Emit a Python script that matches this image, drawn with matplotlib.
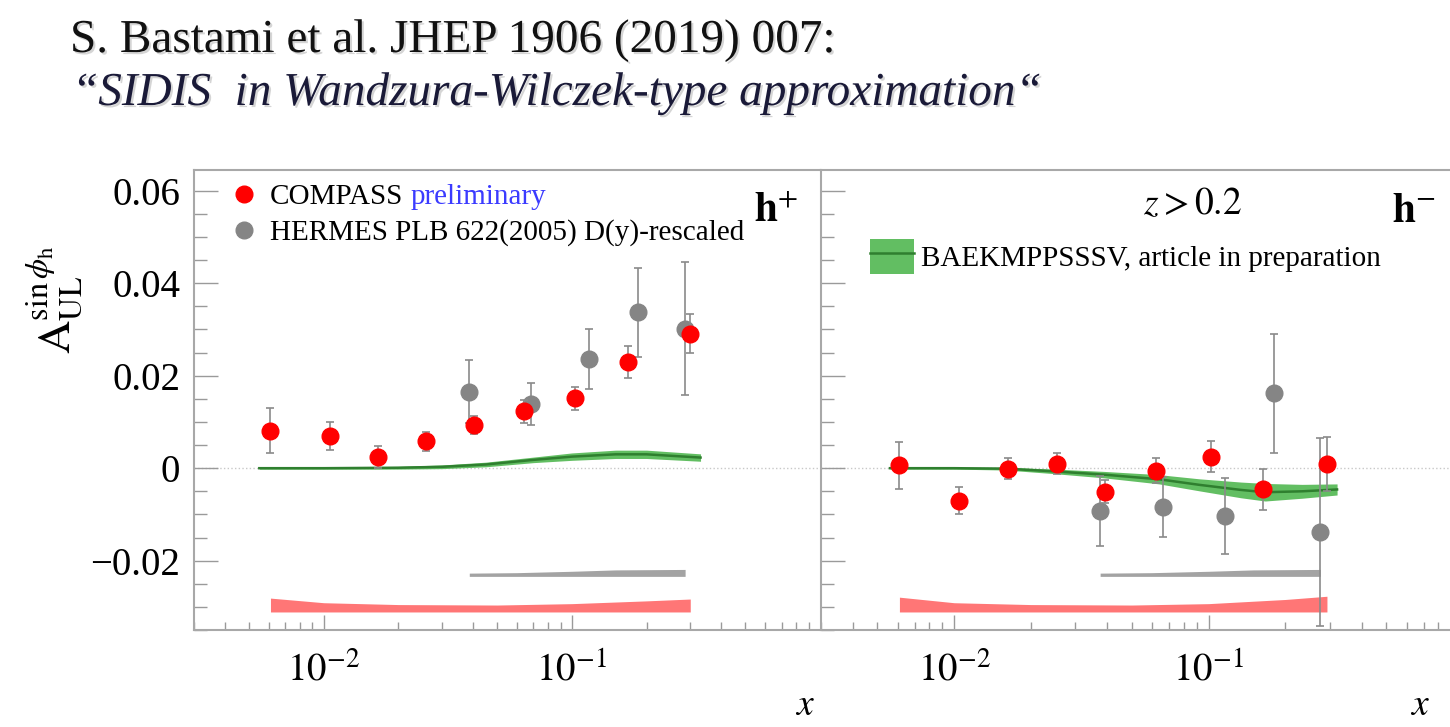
import numpy as np
import matplotlib
matplotlib.use("Agg")
import matplotlib.pyplot as plt
import matplotlib.patheffects as pe
from matplotlib.ticker import MultipleLocator, LogLocator, NullFormatter
from matplotlib.lines import Line2D
from matplotlib.patches import Patch

plt.rcParams['font.family'] = ['Liberation Serif', 'DejaVu Serif']
plt.rcParams['mathtext.fontset'] = 'stix'

# COMPASS points (red), h+ and h-
cmp_x_pos = [0.0061, 0.0106, 0.0166, 0.0258, 0.0404, 0.0644, 0.103, 0.168, 0.30]
cmp_y_pos = [0.0081, 0.0069, 0.0025, 0.0058, 0.0093, 0.0123, 0.0151, 0.0230, 0.0291]
cmp_e_pos = [0.0049, 0.0030, 0.0024, 0.0020, 0.0020, 0.0025, 0.0025, 0.0035, 0.0042]
cmp_x_neg = [0.0061, 0.0105, 0.0163, 0.0253, 0.0393, 0.0620, 0.102, 0.164, 0.292]
cmp_y_neg = [0.0006, -0.0070, -0.0001, 0.0010, -0.0051, -0.0006, 0.0025, -0.0046, 0.0009]
cmp_e_neg = [0.0050, 0.0030, 0.0022, 0.0022, 0.0025, 0.0027, 0.0033, 0.0045, 0.0058]

# HERMES points (gray)
her_x_pos = [0.0386, 0.0687, 0.1175, 0.184, 0.286]
her_y_pos = [0.0165, 0.0139, 0.0236, 0.0337, 0.0302]
her_e_pos = [0.0068, 0.0045, 0.0065, 0.0096, 0.0144]
her_x_neg = [0.0375, 0.0665, 0.116, 0.181, 0.275]
her_y_neg = [-0.0093, -0.0083, -0.0104, 0.0162, -0.0138]
her_e_neg = [0.0076, 0.0065, 0.0082, 0.0129, 0.0204]

# theory band (green): centre and half width
th_x_pos = [0.0055, 0.01, 0.02, 0.03, 0.045, 0.07, 0.1, 0.15, 0.2, 0.33]
th_c_pos = [0.0, 0.0, 0.0001, 0.0003, 0.0008, 0.0018, 0.0025, 0.0030, 0.0030, 0.0023]
th_w_pos = [0.0002, 0.0002, 0.0003, 0.0004, 0.0005, 0.0006, 0.0008, 0.0009, 0.0009, 0.0008]
th_x_neg = [0.0056, 0.01, 0.016, 0.025, 0.039, 0.064, 0.092, 0.134, 0.167, 0.233, 0.32]
th_c_neg = [0.0, 0.0, -0.0001, -0.0007, -0.0014, -0.0024, -0.0036, -0.0047, -0.0052, -0.0050, -0.0046]
th_w_neg = [0.0002, 0.0002, 0.0003, 0.0005, 0.0007, 0.0010, 0.0013, 0.0017, 0.0019, 0.0015, 0.0012]

# systematic bands: COMPASS (red) and HERMES (gray)
sys_c_x_pos = [0.0061, 0.01, 0.02, 0.05, 0.1, 0.2, 0.30]
sys_c_top_pos = [-0.0281, -0.0291, -0.0295, -0.0296, -0.0293, -0.0287, -0.0283]
sys_c_x_neg = [0.0061, 0.01, 0.02, 0.05, 0.1, 0.2, 0.292]
sys_c_top_neg = [-0.0279, -0.0291, -0.0295, -0.0296, -0.0293, -0.0284, -0.0277]
sys_c_bot = -0.0311
sys_h_x_pos = [0.0386, 0.06, 0.1, 0.15, 0.286]
sys_h_top_pos = [-0.0227, -0.0226, -0.0223, -0.0220, -0.0219]
sys_h_x_neg = [0.0375, 0.06, 0.1, 0.15, 0.275]
sys_h_top_neg = [-0.0227, -0.0226, -0.0223, -0.0220, -0.0219]
sys_h_bot = -0.0234

ytick_vals = [-0.02, 0, 0.02, 0.04, 0.06]
ytick_labels = ['\u22120.02', '0', '0.02', '0.04', '0.06']

RED = '#ff0000'
GRAY = '#858585'
GREEN = '#62be62'
DKGREEN = '#2f7f2f'
SPINE = '#a8a8a8'

W, H = 1450, 727
fig = plt.figure(figsize=(W / 100, H / 100), dpi=100)
ax1 = fig.add_axes([194 / W, 1 - 630 / H, 626 / W, 460 / H])
ax2 = fig.add_axes([821 / W, 1 - 630 / H, 642 / W, 460 / H])

panels = [
    (ax1, cmp_x_pos, cmp_y_pos, cmp_e_pos, her_x_pos, her_y_pos, her_e_pos,
     th_x_pos, th_c_pos, th_w_pos, sys_c_x_pos, sys_c_top_pos, sys_h_x_pos, sys_h_top_pos),
    (ax2, cmp_x_neg, cmp_y_neg, cmp_e_neg, her_x_neg, her_y_neg, her_e_neg,
     th_x_neg, th_c_neg, th_w_neg, sys_c_x_neg, sys_c_top_neg, sys_h_x_neg, sys_h_top_neg),
]

for (ax, cx, cy, ce, hx, hy, he, tx, tc, tw, scx, sct, shx, sht) in panels:
    ax.set_xscale('log')
    ax.set_xlim(0.003, 1.0)
    ax.set_ylim(-0.035, 0.0645)
    ax.axhline(0, color='#c8c8c8', ls=':', lw=1, zorder=1)

    tc = np.array(tc)
    tw = np.array(tw)
    ax.fill_between(tx, tc - tw, tc + tw, color=GREEN, lw=0, zorder=2)
    ax.plot(tx, tc, color=DKGREEN, lw=1.8, zorder=3)

    ax.fill_between(scx, sys_c_bot, sct, color='#ff7676', lw=0, zorder=2)
    ax.fill_between(shx, sys_h_bot, sht, color='#a3a3a3', lw=0, zorder=2)

    ax.errorbar(hx, hy, yerr=he, fmt='o', ms=12, color=GRAY, ecolor='#8a8a8a',
                elinewidth=1.2, capsize=3, capthick=1.2, zorder=4)
    ax.errorbar(cx, cy, yerr=ce, fmt='o', ms=12, color=RED, ecolor='#8a8a8a',
                elinewidth=1.2, capsize=3, capthick=1.2, zorder=5)

    ax.set_yticks(ytick_vals)
    ax.yaxis.set_minor_locator(MultipleLocator(0.005))
    ax.set_xticks([0.01, 0.1])
    ax.set_xticklabels([r'$10^{-2}$', r'$10^{-1}$'])
    ax.xaxis.set_minor_locator(LogLocator(base=10, subs=np.arange(2, 10)))
    ax.xaxis.set_minor_formatter(NullFormatter())
    ax.tick_params(axis='y', which='major', direction='in', length=17, width=1,
                   color='#9a9a9a', labelsize=28, pad=10)
    ax.tick_params(axis='y', which='minor', direction='in', length=9, width=1, color='#9a9a9a')
    ax.tick_params(axis='x', which='major', direction='in', length=11, width=1,
                   color='#9a9a9a', labelsize=28, pad=16)
    ax.tick_params(axis='x', which='minor', direction='in', length=6, width=1, color='#9a9a9a')
    for s in ax.spines.values():
        s.set_color(SPINE)
        s.set_linewidth(1.5)

ax1.set_yticklabels(ytick_labels)
ax1.spines['right'].set_visible(False)
ax2.tick_params(axis='y', which='both', labelleft=False)

# legends
h_cmp = Line2D([], [], marker='o', ls='none', ms=12, color=RED)
h_her = Line2D([], [], marker='o', ls='none', ms=12, color=GRAY)
leg1 = ax1.legend([h_cmp, h_her], ['COMPASS', 'HERMES PLB 622(2005) D(y)-rescaled'],
                  loc='upper left', bbox_to_anchor=(0.04, 0.995), frameon=False,
                  fontsize=21, handlelength=0.9, handletextpad=0.45, labelspacing=0.3,
                  borderaxespad=0)
ax1.annotate('preliminary', xy=(1, 0), xycoords=leg1.get_texts()[0], xytext=(5, 0),
             textcoords='offset points', va='bottom', ha='left', fontsize=21,
             color='#3b3bff', zorder=10)

h_th = (Patch(facecolor=GREEN, edgecolor='none'), Line2D([], [], color=DKGREEN, lw=1.8))
ax2.legend([h_th], ['BAEKMPPSSSV, article in preparation'], loc='upper left',
           bbox_to_anchor=(0.058, 0.875), frameon=False, fontsize=21, handlelength=1.5,
           handleheight=1.45, handletextpad=0.25, borderaxespad=0)

ax1.text(0.965, 0.95, r'$\mathbf{h}^{+}$', transform=ax1.transAxes, ha='right', va='top', fontsize=30)
ax2.text(0.958, 0.95, r'$\mathbf{h}^{-}$', transform=ax2.transAxes, ha='right', va='top', fontsize=30)
ax2.text(0.579, 0.925, r'$z > 0.2$', transform=ax2.transAxes, ha='center', va='center', fontsize=27)

# axis titles
fig.text(55 / W, 1 - 300 / H, r'$\mathrm{A}_{\mathrm{UL}}^{\mathrm{sin}\,\phi_{\mathrm{h}}}$',
         rotation=90, ha='center', va='center', fontsize=33)
fig.text(805 / W, 1 - 706 / H, r'$x$', ha='center', va='center', fontsize=27)
fig.text(1420 / W, 1 - 706 / H, r'$x$', ha='center', va='center', fontsize=27)

# header
shadow = [pe.withSimplePatchShadow(offset=(1.5, -1.5), shadow_rgbFace='#888888', alpha=0.35)]
fig.text(70 / W, 1 - 52 / H, 'S. Bastami et al. JHEP 1906 (2019) 007:', ha='left',
         va='baseline', fontsize=34, color='#111111', path_effects=shadow)
fig.text(72 / W, 1 - 105 / H, '\u201cSIDIS  in Wandzura-Wilczek-type approximation\u201c',
         ha='left', va='baseline', fontsize=34, style='italic', color='#1a1a38',
         path_effects=shadow)

fig.savefig('out.png', dpi=100)
